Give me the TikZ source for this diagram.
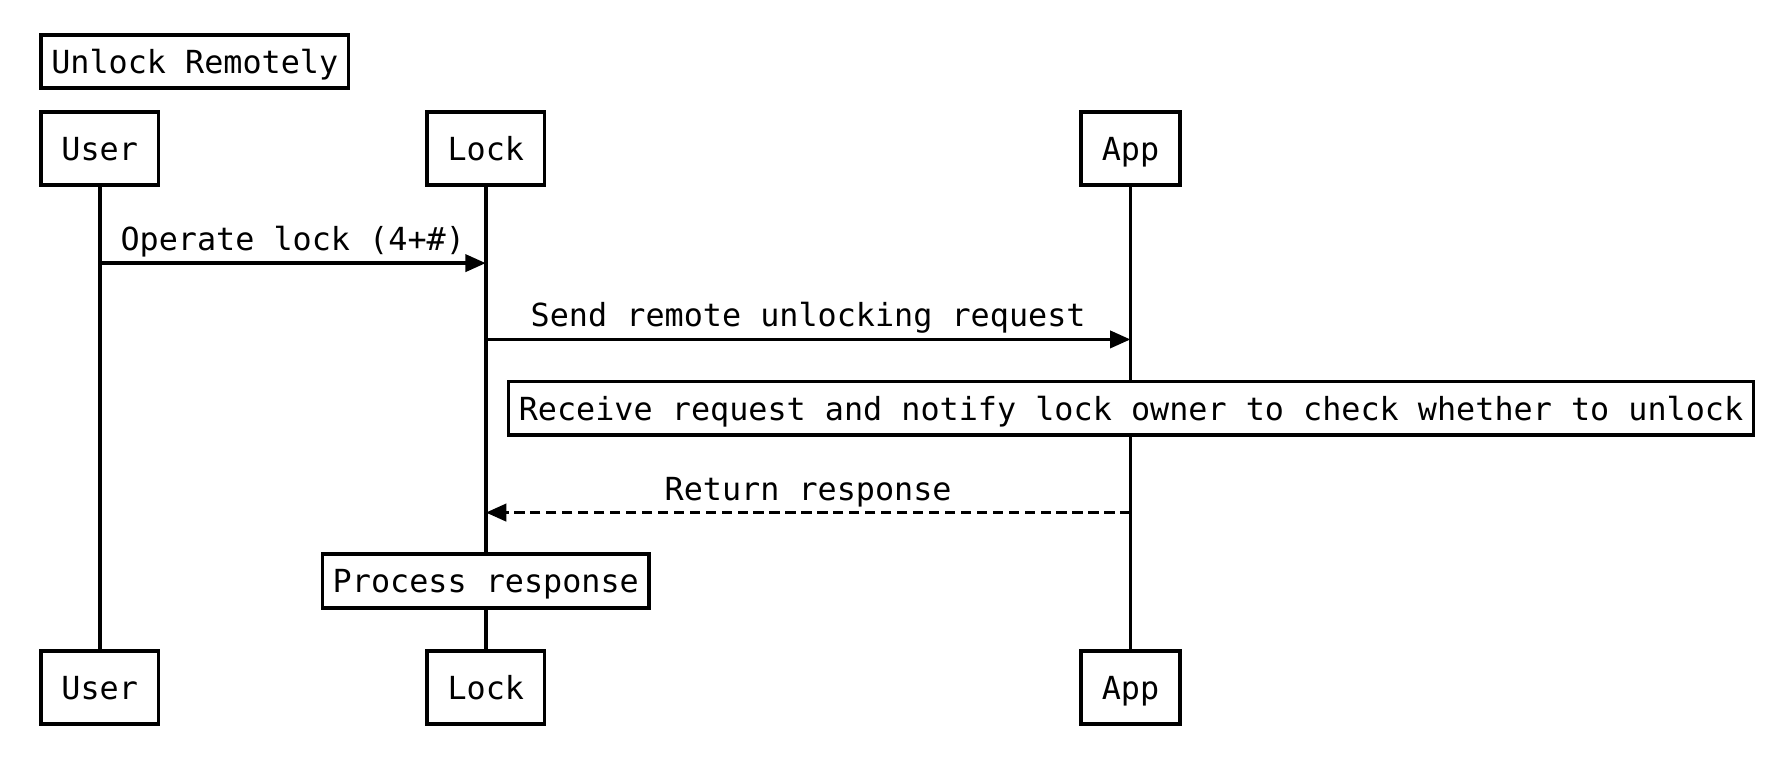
\documentclass[tikz,border=0pt]{standalone}
\usepackage{fontspec}
\setmonofont{DejaVu Sans Mono}
\usetikzlibrary{arrows.meta}
\begin{document}
\begin{tikzpicture}[x=1pt,y=-1pt,
  font=\fontsize{27.9}{33}\selectfont\ttfamily,
  line width=3.3pt,
  actor/.style={draw, fill=white, line width=3.3pt, minimum height=64pt, inner xsep=18pt, inner ysep=0pt, text height=25pt, text depth=4pt},
  notebox/.style={draw, fill=white, line width=3.3pt, minimum height=47pt, inner xsep=9pt, inner ysep=0pt, text height=25pt, text depth=4pt},
  msg/.style={-{Triangle[length=18pt,width=15pt]}, line width=3.3pt},
  reply/.style={msg, dash pattern=on 9pt off 5pt},
  lbl/.style={inner sep=0pt, anchor=base, yshift=11pt}]
\useasboundingbox (0,0) rectangle (1568,676);

% participants
\node[actor] (userTop) at (87.5,130.5) {User};
\node[actor] (lockTop) at (426.5,130.5) {Lock};
\node[actor] (appTop)  at (992.5,130.5) {App};
\node[actor] (userBot) at (87.5,603.5) {User};
\node[actor] (lockBot) at (426.5,603.5) {Lock};
\node[actor] (appBot)  at (992.5,603.5) {App};

% lifelines
\draw (userTop.south) -- (userBot.north);
\draw (lockTop.south) -- (lockBot.north);
\draw (appTop.south) -- (appBot.north);

% title
\node[notebox] (title) at (171,54) {Unlock Remotely};

% messages
\coordinate (m1s) at (userTop |- 0,231);
\coordinate (m1e) at (lockTop |- 0,231);
\draw[msg] (m1s) -- node[lbl, midway] {Operate lock (4+\#)} (m1e);

\coordinate (m2s) at (lockTop |- 0,298);
\coordinate (m2e) at (appTop |- 0,298);
\draw[msg] (m2s) -- node[lbl, midway] {Send remote unlocking request} (m2e);

\node[notebox] (note1) at (993,358.5) {Receive request and notify lock owner to check whether to unlock};

\coordinate (m3s) at (appTop |- 0,450);
\coordinate (m3e) at (lockTop |- 0,450);
\draw[reply] (m3s) -- node[lbl, midway] {Return response} (m3e);

\node[notebox] (note2) at (426.5,510) {Process response};
\end{tikzpicture}
\end{document}
